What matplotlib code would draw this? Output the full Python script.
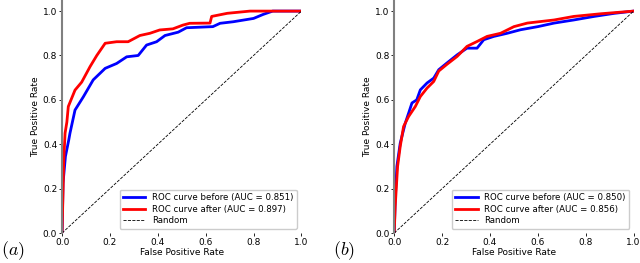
"""
two ROC panels: before/after comparison, (a) and (b)
"""

import matplotlib
matplotlib.use("Agg")
import matplotlib.pyplot as plt

plt.rcParams["mathtext.fontset"] = "cm"

# panel (a)
a_before_fpr = [0.0, 0.004, 0.014, 0.028, 0.033, 0.054, 0.089, 0.13, 0.18, 0.228, 0.27, 0.318,
                0.353, 0.395, 0.43, 0.485, 0.52, 0.63, 0.66, 0.715, 0.8, 0.84, 0.88, 1.0]
a_before_tpr = [0.0, 0.225, 0.345, 0.42, 0.45, 0.554, 0.614, 0.69, 0.742, 0.764, 0.794, 0.80,
                0.847, 0.862, 0.89, 0.905, 0.925, 0.93, 0.945, 0.952, 0.967, 0.985, 1.0, 1.0]
a_after_fpr = [0.0, 0.007, 0.0125, 0.02, 0.026, 0.054, 0.082, 0.117, 0.145, 0.18, 0.228, 0.276,
               0.325, 0.367, 0.408, 0.463, 0.505, 0.533, 0.618, 0.625, 0.69, 0.785, 1.0]
a_after_tpr = [0.0, 0.33, 0.45, 0.5, 0.57, 0.644, 0.68, 0.75, 0.80, 0.855, 0.862, 0.862,
               0.89, 0.90, 0.915, 0.92, 0.937, 0.945, 0.946, 0.976, 0.99, 1.0, 1.0]
a_auc = [0.851, 0.897]

# panel (b)
b_before_fpr = [0.0, 0.004, 0.011, 0.025, 0.046, 0.06, 0.074, 0.094, 0.109, 0.137, 0.165, 0.186,
                0.22, 0.263, 0.304, 0.346, 0.374, 0.416, 0.472, 0.528, 0.6, 0.668, 0.75, 0.835,
                0.92, 1.0]
b_before_tpr = [0.0, 0.15, 0.30, 0.405, 0.495, 0.54, 0.586, 0.60, 0.645, 0.676, 0.698, 0.736,
                0.766, 0.803, 0.833, 0.833, 0.871, 0.886, 0.90, 0.916, 0.93, 0.946, 0.96, 0.976,
                0.99, 1.0]
b_after_fpr = [0.0, 0.004, 0.014, 0.025, 0.039, 0.06, 0.088, 0.109, 0.137, 0.165, 0.186, 0.22,
               0.263, 0.304, 0.346, 0.388, 0.444, 0.5, 0.556, 0.668, 0.75, 0.863, 1.0]
b_after_tpr = [0.0, 0.12, 0.30, 0.39, 0.48, 0.525, 0.57, 0.615, 0.653, 0.683, 0.73, 0.76,
               0.796, 0.841, 0.863, 0.886, 0.90, 0.93, 0.946, 0.96, 0.976, 0.988, 1.0]
b_auc = [0.850, 0.856]

panels = [
    ("$(a)$", a_before_fpr, a_before_tpr, a_after_fpr, a_after_tpr, a_auc),
    ("$(b)$", b_before_fpr, b_before_tpr, b_after_fpr, b_after_tpr, b_auc),
]

fig = plt.figure(figsize=(6.4, 2.63), dpi=100)
lefts = [0.097, 0.616]

for left, (tag, bf, bt, af, at, auc) in zip(lefts, panels):
    ax = fig.add_axes([left, 0.114, 0.374, 0.886])
    ax.plot(bf, bt, color="blue", lw=2, label="ROC curve before (AUC = %.3f)" % auc[0])
    ax.plot(af, at, color="red", lw=2, label="ROC curve after (AUC = %.3f)" % auc[1])
    ax.plot([0, 1], [0, 1], "k--", lw=0.6, label="Random")
    ax.set_xlim(0, 1)
    ax.set_ylim(0, 1.05)
    ax.set_xticks([0, 0.2, 0.4, 0.6, 0.8, 1.0])
    ax.set_yticks([0, 0.2, 0.4, 0.6, 0.8, 1.0])
    ax.tick_params(labelsize=6.5, length=2, width=0.6, pad=1.5)
    ax.set_xlabel("False Positive Rate", fontsize=6.5, labelpad=1)
    ax.set_ylabel("True Positive Rate", fontsize=6.5, labelpad=2)
    for s in ["top", "right", "bottom"]:
        ax.spines[s].set_visible(False)
    ax.spines["left"].set_color("gray")
    ax.spines["left"].set_linewidth(1.5)
    ax.legend(loc="lower right", fontsize=6.2, handlelength=2.6, borderpad=0.4,
              labelspacing=0.3, framealpha=1, edgecolor="#cccccc", fancybox=True)
    fig.text(left - 0.095, 0.03, tag, fontsize=13)

fig.savefig("out.png", dpi=100)
